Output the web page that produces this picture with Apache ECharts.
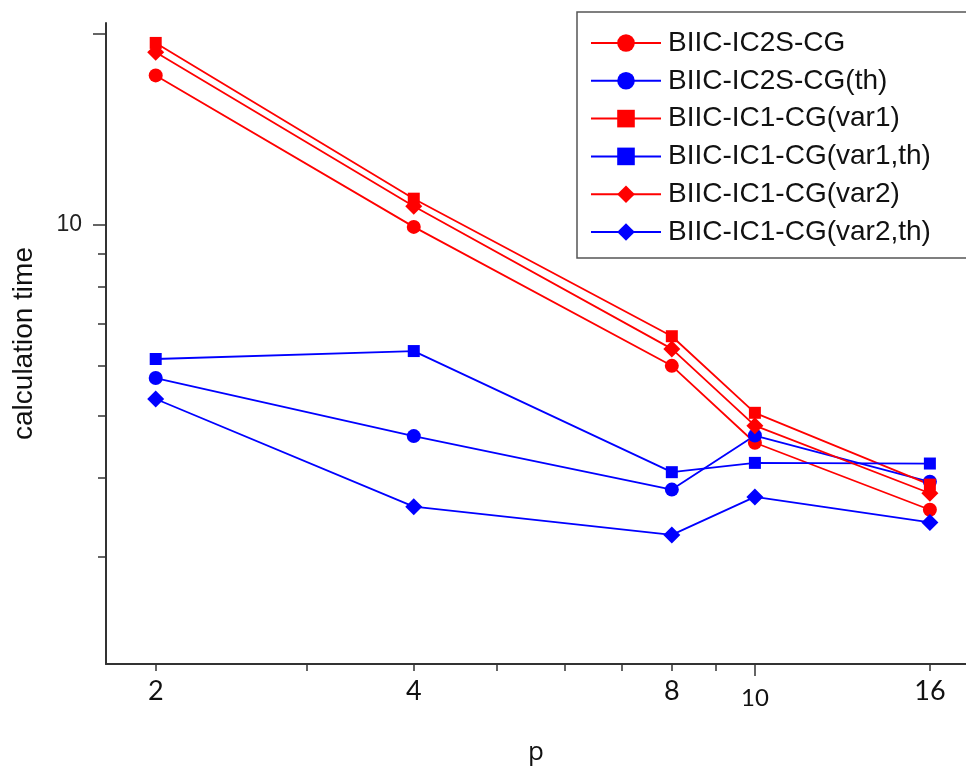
<!DOCTYPE html>
<html>
<head>
<meta charset="utf-8">
<script src="https://cdn.jsdelivr.net/npm/echarts@6/dist/echarts.min.js"></script>
<style>html,body{margin:0;padding:0;background:#fff;}#c{width:966px;height:768px;}</style>
</head>
<body>
<div id="c"></div>
<script>
const pValues = [2, 4, 8, 10, 16];
const xTickLabels = [2, 4, 8, 10, 16];
const xMinorTicks = [2, 3, 4, 5, 6, 7, 8, 9, 16];
const xMajorTicks = [10];
const yTickLabels = [10];
const yMinorTicks = [3, 4, 5, 6, 7, 8, 9];
const yMajorTicks = [10, 20];

const ic2s = [17.2, 9.93, 6.0, 4.54, 3.56];
const ic2sTh = [5.74, 4.65, 3.83, 4.66, 3.94];
const var1 = [19.35, 11.0, 6.68, 5.06, 3.9];
const var1Th = [6.15, 6.33, 4.08, 4.22, 4.21];
const var2 = [18.7, 10.7, 6.38, 4.83, 3.78];
const var2Th = [5.32, 3.60, 3.25, 3.73, 3.40];

const seriesDefs = [
  {name: 'BIIC-IC2S-CG', data: ic2s, color: '#ff0000', symbol: 'circle', size: 14},
  {name: 'BIIC-IC2S-CG(th)', data: ic2sTh, color: '#0000ff', symbol: 'circle', size: 14},
  {name: 'BIIC-IC1-CG(var1)', data: var1, color: '#ff0000', symbol: 'rect', size: 12},
  {name: 'BIIC-IC1-CG(var1,th)', data: var1Th, color: '#0000ff', symbol: 'rect', size: 12},
  {name: 'BIIC-IC1-CG(var2)', data: var2, color: '#ff0000', symbol: 'diamond', size: 17},
  {name: 'BIIC-IC1-CG(var2,th)', data: var2Th, color: '#0000ff', symbol: 'diamond', size: 17}
];

const X_MIN = 1.75, X_MAX = 17.63, Y_MIN = 2.035, Y_MAX = 20.8;
const axisColor = '#333';

const chart = echarts.init(document.getElementById('c'), null, {renderer: 'canvas'});
chart.setOption({
  animation: false,
  backgroundColor: '#fff',
  grid: {left: 106, right: 0, top: 23, bottom: 104, containLabel: false, outerBoundsMode: 'none'},
  legend: {
    left: 577, top: 12,
    orient: 'vertical',
    itemWidth: 70, itemHeight: 22, itemGap: 9.8,
    padding: [17, 60, 12, 13],
    borderColor: '#555', borderWidth: 1.5,
    textStyle: {fontFamily: 'Liberation Sans', fontSize: 28, color: '#111', padding: [0, 0, 0, 2]},
    data: seriesDefs.map(s => s.name)
  },
  xAxis: [{
    type: 'log', logBase: 2, min: X_MIN, max: X_MAX,
    name: 'p', nameLocation: 'middle', nameGap: 76,
    nameTextStyle: {fontFamily: 'Open Sans', fontSize: 26, color: '#111'},
    axisLine: {show: true, lineStyle: {color: axisColor, width: 2}},
    axisTick: {show: true, length: 7, lineStyle: {color: axisColor, width: 1.5}, customValues: xMinorTicks},
    splitLine: {show: false},
    minorTick: {show: false},
    axisLabel: {
      customValues: xTickLabels, margin: 14,
      fontFamily: 'Lato', fontSize: 27, color: '#111',
      formatter: v => (Math.round(v) === 10 ? '{s|10}' : String(Math.round(v))),
      rich: {s: {fontFamily: 'Lato', fontSize: 24, color: '#111', padding: [8, 0, 0, 0]}}
    }
  }, {
    type: 'log', logBase: 2, min: X_MIN, max: X_MAX, position: 'bottom',
    axisLine: {show: false},
    axisTick: {show: true, length: 12, lineStyle: {color: axisColor, width: 1.5}, customValues: xMajorTicks},
    axisLabel: {show: false},
    splitLine: {show: false}
  }],
  yAxis: [{
    type: 'log', logBase: 10, min: Y_MIN, max: Y_MAX,
    name: 'calculation time', nameLocation: 'middle', nameGap: 68,
    nameTextStyle: {fontFamily: 'Liberation Sans', fontSize: 28, color: '#111'},
    axisLine: {show: true, lineStyle: {color: axisColor, width: 2}},
    axisTick: {show: true, length: 8, lineStyle: {color: axisColor, width: 1.5}, customValues: yMinorTicks},
    splitLine: {show: false},
    minorTick: {show: false},
    axisLabel: {
      customValues: yTickLabels, margin: 24,
      fontFamily: 'Liberation Sans', fontSize: 23, color: '#222',
      formatter: v => String(Math.round(v))
    }
  }, {
    type: 'log', logBase: 10, min: Y_MIN, max: Y_MAX, position: 'left',
    axisLine: {show: false},
    axisTick: {show: true, length: 13, lineStyle: {color: axisColor, width: 1.5}, customValues: yMajorTicks},
    axisLabel: {show: false},
    splitLine: {show: false}
  }],
  series: seriesDefs.map(s => ({
    name: s.name, type: 'line',
    xAxisIndex: 0, yAxisIndex: 0,
    data: pValues.map((p, i) => [p, s.data[i]]),
    symbol: s.symbol, symbolSize: s.size,
    showAllSymbol: true,
    itemStyle: {color: s.color},
    lineStyle: {color: s.color, width: 1.8},
    emphasis: {disabled: true}
  }))
});
</script>
</body>
</html>
